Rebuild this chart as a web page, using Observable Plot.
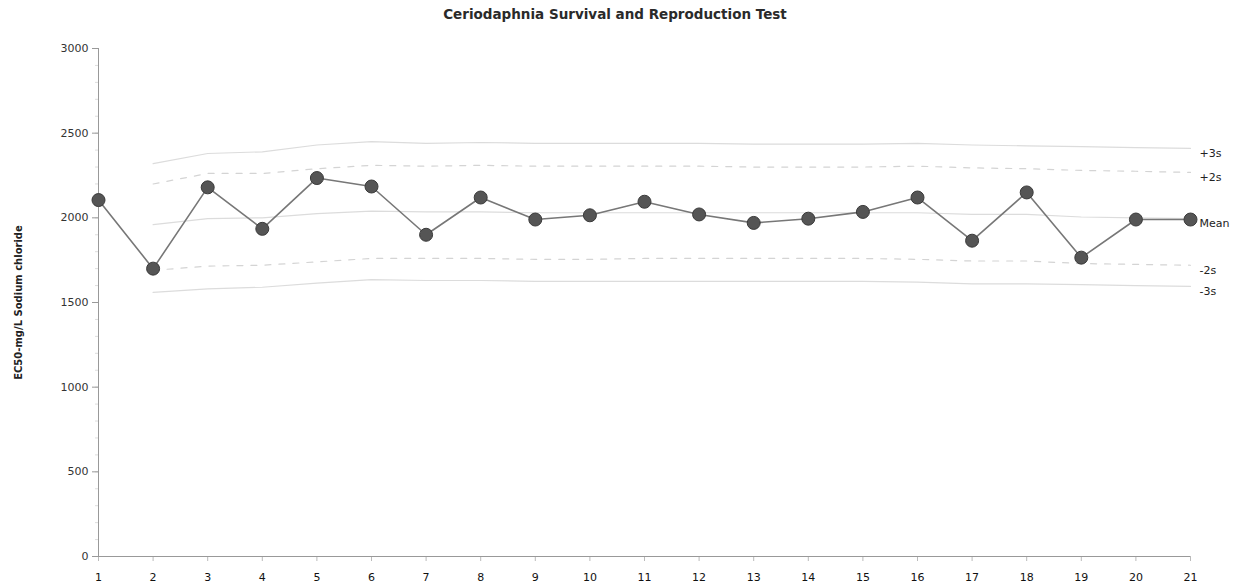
<!DOCTYPE html>
<html><head><meta charset="utf-8">
<script src="https://cdn.jsdelivr.net/npm/d3@7"></script>
<script src="https://cdn.jsdelivr.net/npm/@observablehq/plot@0.6"></script>
<style>
body{margin:0;background:#fff;font-family:"DejaVu Sans",Verdana,sans-serif;}
#wrap{position:relative;width:1244px;height:588px;}
#title{position:absolute;left:0;top:6px;width:1230px;text-align:center;font-size:13.5px;font-weight:bold;color:#2a2a2a;}
</style></head>
<body><div id="wrap"><div id="title">Ceriodaphnia Survival and Reproduction Test</div><div id="chart"></div></div>
<script>
const tests = [1,2,3,4,5,6,7,8,9,10,11,12,13,14,15,16,17,18,19,20,21];
const ec50 = [2105,1700,2180,1935,2235,2185,1900,2120,1990,2015,2095,2020,1970,1995,2035,2120,1865,2150,1765,1990,1990];

const limitTests = [2,3,4,5,6,7,8,9,10,11,12,13,14,15,16,17,18,19,20,21];
const meanLine  = [1960,1995,2000,2025,2040,2035,2035,2030,2030,2030,2030,2030,2030,2030,2030,2020,2020,2005,2000,1995];
const plus2s    = [2200,2262,2262,2290,2310,2305,2310,2305,2305,2305,2305,2300,2300,2300,2305,2295,2290,2280,2275,2268];
const plus3s    = [2320,2380,2390,2430,2450,2440,2445,2440,2440,2440,2440,2435,2435,2435,2440,2430,2425,2420,2415,2410];
const minus2s   = [1690,1715,1720,1740,1760,1760,1760,1755,1755,1760,1760,1760,1760,1760,1755,1745,1745,1730,1725,1720];
const minus3s   = [1560,1580,1590,1615,1635,1630,1630,1625,1625,1625,1625,1625,1625,1625,1620,1610,1610,1605,1600,1595];
const limitNames = ["+3s","+2s","Mean","-2s","-3s"];
const yTicks = [0,500,1000,1500,2000,2500,3000];
const yMinor = d3.range(0, 3001, 100);
const yLabel = "EC50-mg/L Sodium chloride";

const pts = tests.map((t,i)=>({test:t, v:ec50[i]}));
const limitSeries = {"+3s":plus3s,"+2s":plus2s,"Mean":meanLine,"-2s":minus2s,"-3s":minus3s};
const limits = limitNames.flatMap(n => limitTests.map((t,i)=>({test:t, v:limitSeries[n][i], name:n})));
const ends = limitNames.map(n => ({name:n, test:limitTests[limitTests.length-1], v:limitSeries[n][limitSeries[n].length-1]}));
const dashed = new Set(["+2s","-2s"]);

const chart = Plot.plot({
  width:1244, height:588,
  marginTop:48, marginBottom:32, marginLeft:98, marginRight:54,
  style:{fontFamily:"DejaVu Sans, Verdana, sans-serif", fontSize:"11px", color:"#333", background:"#fff"},
  x:{domain:[1,21]},
  y:{domain:[0,3000]},
  marks:[
    Plot.line(limits.filter(d=>!dashed.has(d.name)), {x:"test", y:"v", z:"name", stroke:"#dcdcdc", strokeWidth:1.2}),
    Plot.line(limits.filter(d=>dashed.has(d.name)), {x:"test", y:"v", z:"name", stroke:"#d4d4d4", strokeWidth:1.2, strokeDasharray:"6,8"}),
    Plot.axisY(yMinor, {tickSize:3, tickFormat:()=>"", stroke:"#ddd", label:null}),
    Plot.axisY(yTicks, {tickSize:6, tickPadding:4, tickFormat:d3.format("d"), label:null, stroke:"#999", fill:"#333"}),
    Plot.axisX(tests, {tickSize:5, tickPadding:12, tickFormat:d3.format("d"), label:null, stroke:"#bbb", fill:"#111", fontSize:11}),
    Plot.ruleX([1], {stroke:"#999"}),
    Plot.ruleY([0], {stroke:"#999"}),
    Plot.line(pts, {x:"test", y:"v", stroke:"#777", strokeWidth:1.6}),
    Plot.dot(pts, {x:"test", y:"v", r:6.5, fill:"#555", stroke:"#3a3a3a", strokeWidth:1}),
    Plot.text(ends, {x:"test", y:"v", text:"name", textAnchor:"start", dx:9, dy:5, fill:"#222", fontSize:11}),
    Plot.text([yLabel], {frameAnchor:"left", textAnchor:"middle", rotate:-90, dx:-80, dy:0, fontWeight:"bold", fontSize:10, fill:"#222"})
  ]
});
document.getElementById("chart").append(chart);
</script>
</body></html>
